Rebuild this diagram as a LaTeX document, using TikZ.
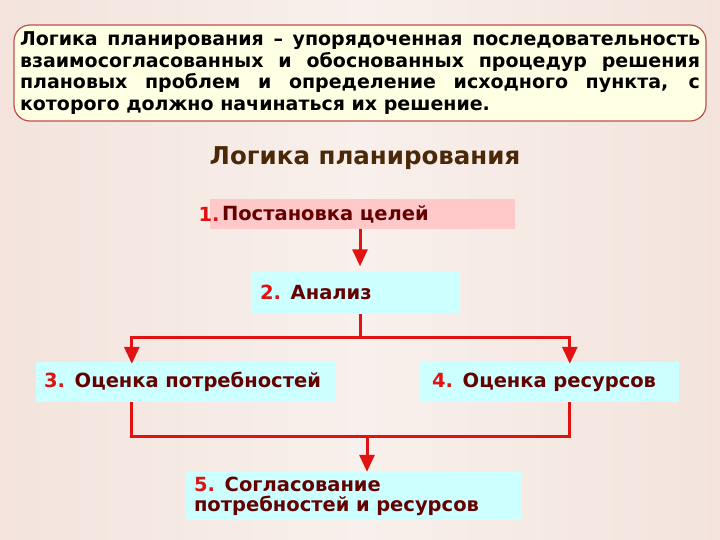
\documentclass[tikz,border=0pt]{standalone}
\usepackage{fontspec}
\setmainfont{DejaVu Sans}
\usetikzlibrary{positioning}
\usetikzlibrary{arrows.meta}
\definecolor{bgside}{HTML}{F3E3DC}
\definecolor{bgmid}{HTML}{F8F0EC}
\definecolor{deffill}{HTML}{FFFFE3}
\definecolor{defline}{HTML}{C0504D}
\definecolor{stepred}{HTML}{E01212}
\definecolor{steptext}{HTML}{650000}
\definecolor{titlebrown}{HTML}{4A2808}
\definecolor{pinkfill}{HTML}{FFC9C9}
\definecolor{cyanfill}{HTML}{CCFFFF}
\tikzstyle{stepfont}=[font=\bfseries\fontsize{19.5}{20}\selectfont]
\tikzstyle{stepbox}=[stepfont, inner xsep=8pt, inner ysep=0pt, align=left, text=steptext, fill=cyanfill]
\tikzstyle{wire}=[stepred, line width=3pt]
\tikzstyle{arrow}=[wire, -{Triangle[length=17pt, width=15pt]}]
\newcommand{\stepnum}[1]{\textcolor{stepred}{#1}}

\begin{document}
\begin{tikzpicture}[x=1pt, y=-1pt]
            \fill[left color=bgside, right color=bgside, middle color=bgmid] (0,0) rectangle (720,540);

            \node[draw=defline, line width=1.2pt, fill=deffill, rounded corners=16pt, minimum width=692pt, minimum height=96pt, text width=680pt, align=justify, inner sep=0pt, font=\bfseries\fontsize{19}{21.5}\selectfont, text=black] (def) at (360,73) {Логика планирования – упорядоченная последовательность\linebreak взаимосогласованных и обоснованных процедур решения\linebreak плановых проблем и определение исходного пункта, с\linebreak которого должно начинаться их решение.};
            \node[font=\bfseries\fontsize{24.5}{28}\selectfont, text=titlebrown] (title) at (365,158) {Логика планирования};

            \node[stepbox, fill=pinkfill, inner xsep=12pt, text width=281pt, minimum height=30pt, label={[stepfont, text=stepred, inner sep=0pt, anchor=east, xshift=10pt]west:1.}] (s1) at (362.5,214) {Постановка целей};
            \node[stepbox, text width=192pt, minimum height=42pt] (s2) at (356,292.5) {\stepnum{2.} Анализ};
            \node[stepbox, text width=283pt, minimum height=40pt] (s3) at (185.5,382) {\stepnum{3.} Оценка потребностей};
            \node[stepbox, inner xsep=12pt, text width=235pt, minimum height=40pt] (s4) at (549.5,382) {\stepnum{4.} Оценка ресурсов};
            \node[stepbox, text width=320pt, minimum height=48pt] (s5) at (354,496) {\stepnum{5.} Согласование\\потребностей и ресурсов};

            \coordinate (fork) at (360,337);
            \coordinate (join) at (367,436);

            \draw[arrow, shorten >=5pt] (s1.south -| fork) -- (s2.north -| fork);
            \draw[wire] (s2.south -| fork) -- (fork);
            \draw[arrow, line cap=rect] (fork) -| ([xshift=96pt, yshift=-2pt]s3.north west);
            \draw[arrow, line cap=rect] (fork) -| ([xshift=150pt, yshift=-2pt]s4.north west);
            \draw[wire, line join=miter] ([xshift=96pt]s3.south west) |- (join) -| ([xshift=150pt]s4.south west);
            \draw[arrow] (join) -- (join |- s5.north);
        \end{tikzpicture}
\end{document}
